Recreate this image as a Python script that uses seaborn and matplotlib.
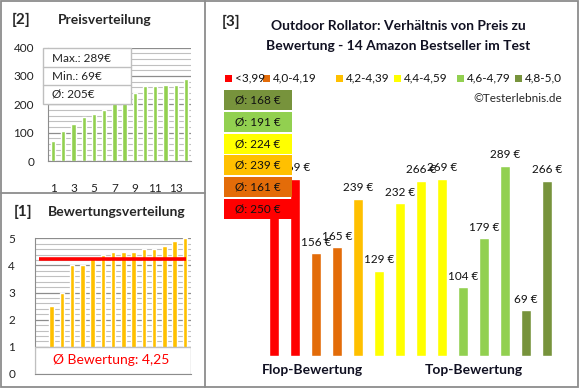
import matplotlib.pyplot as plt
import numpy as np
import pandas as pd
import seaborn as sns
from matplotlib.patches import Rectangle
from matplotlib.ticker import MultipleLocator

# products in test order (flop -> top rating)
ratings = [2.5, 3.0, 4.0, 4.0, 4.3, 4.4, 4.5, 4.5, 4.5, 4.6, 4.6, 4.7, 4.9, 5.0]
prices = [231, 269, 156, 165, 239, 129, 232, 266, 269, 104, 179, 289, 69, 266]

class_labels = ["<3,99", "4,0-4,19", "4,2-4,39", "4,4-4,59", "4,6-4,79", "4,8-5,0"]
class_bounds = [0, 4.0, 4.2, 4.4, 4.6, 4.8, 5.01]
class_colors = ["#FF0000", "#E36C09", "#FFC000", "#FFFF00", "#92D050", "#77933C"]

W, H = 580, 390
BORDER = "#8C8C8C"
GRID_MAJOR = "#8C8C8C"
GRID_MINOR = "#C0C0C0"

sns.set_style("white")
plt.rcParams["font.family"] = ["Lato", "DejaVu Sans"]

df = pd.DataFrame({"pos": range(len(prices)), "price": prices, "rating": ratings})
df["klasse"] = pd.cut(df["rating"], bins=class_bounds, right=False, labels=class_labels)
class_avg = df.groupby("klasse", observed=False)["price"].mean()


def round_half_up(v):
    return int(np.floor(v + 0.5))


fig = plt.figure(figsize=(W / 100, H / 100), dpi=100)


def px_axes(left, top, right, bottom):
    return fig.add_axes([left / W, 1 - bottom / H, (right - left) / W, (bottom - top) / H])


def style_grid(ax, major, minor):
    ax.yaxis.set_major_locator(MultipleLocator(major))
    ax.yaxis.set_minor_locator(MultipleLocator(minor))
    ax.grid(axis="y", which="major", color=GRID_MAJOR, lw=0.9)
    ax.grid(axis="y", which="minor", color=GRID_MINOR, lw=0.8)
    ax.set_axisbelow(True)
    ax.tick_params(length=0, labelsize=8.5, colors="#222222")
    ax.set_xlabel("")
    ax.set_ylabel("")
    for side in ["top", "right"]:
        ax.spines[side].set_visible(False)
    for side in ["left", "bottom"]:
        ax.spines[side].set_color(GRID_MAJOR)


# [2] price distribution
ax_p = px_axes(48, 47.5, 191, 161)
price_sorted = pd.DataFrame({"rank": range(len(prices)), "price": sorted(prices)})
sns.barplot(data=price_sorted, x="rank", y="price", color="#92D050", width=0.42,
            saturation=1, ax=ax_p)
ax_p.set_xlim(-0.5, 13.5)
ax_p.set_ylim(0, 400)
style_grid(ax_p, 100, 20)
ax_p.set_xticks(range(0, 14, 2))
ax_p.set_xticklabels([str(i + 1) for i in range(0, 14, 2)])
ax_p.tick_params(axis="x", pad=16)
ax_p.tick_params(axis="y", pad=10)

# [1] rating distribution
ax_r = px_axes(34.5, 238.3, 191, 374)
rating_sorted = pd.DataFrame({"rank": range(len(ratings)), "rating": sorted(ratings)})
sns.barplot(data=rating_sorted, x="rank", y="rating", color="#FFC000", width=0.45,
            saturation=1, ax=ax_r)
ax_r.set_xlim(-1.68, 13.6)
ax_r.set_ylim(0, 5)
style_grid(ax_r, 1, 0.2)
ax_r.set_xticks([])
ax_r.tick_params(axis="y", pad=14)
mean_rating = np.mean(ratings)
ax_r.hlines(mean_rating, -1.2, 13.1, color="#FF0000", lw=2.6, zorder=4)
ax_r.add_patch(Rectangle((0, 0), 1, 0.2, transform=ax_r.transAxes, facecolor="white",
                         edgecolor="#BFBFBF", lw=1, zorder=5))
ax_r.text(0.49, 0.1, f"Ø Bewertung: {mean_rating:.2f}".replace(".", ","),
          transform=ax_r.transAxes, ha="center", va="center", color="#FF0000",
          fontsize=10, zorder=6)

# [3] price vs rating
ax_m = px_axes(263.5, 158.6, 557.5, 355.7)
sns.barplot(data=df, x="pos", y="price", hue="klasse",
            palette=dict(zip(class_labels, class_colors)), legend=False,
            width=0.43, dodge=False, saturation=1, ax=ax_m)
ax_m.set_xlim(-0.5, 13.5)
ax_m.set_ylim(0, 300)
ax_m.axis("off")
for i, p in enumerate(prices):
    ax_m.annotate(f"{p} €", (i, p), xytext=(0, 4), textcoords="offset points",
                  ha="center", va="bottom", fontsize=8.5, color="#111111")

# overlay in pixel coordinates for frames, titles and boxes
ov = fig.add_axes([0, 0, 1, 1])
ov.set_xlim(0, W)
ov.set_ylim(H, 0)
ov.axis("off")
ov.set_zorder(10)
ov.patch.set_visible(False)

ov.add_patch(Rectangle((0.8, 0.8), 577, 386.5, fill=False, edgecolor=BORDER, lw=1.3))
ov.plot([205, 205], [0.8, 387.3], color=BORDER, lw=1.3)
ov.plot([0.8, 205], [193, 193], color=BORDER, lw=1.3)

ov.text(12, 20, "[2]", fontsize=11, fontweight="bold", va="center")
ov.text(58, 20, "Preisverteilung", fontsize=10, fontweight="bold", va="center")
ov.text(14, 212, "[1]", fontsize=11, fontweight="bold", va="center")
ov.text(48, 212, "Bewertungsverteilung", fontsize=10, fontweight="bold", va="center")
ov.text(222, 22, "[3]", fontsize=11, fontweight="bold", va="center")
ov.text(398, 26, "Outdoor Rollator: Verhältnis von Preis zu", fontsize=10,
        fontweight="bold", ha="center", va="center", color="#111122")
ov.text(398, 46, "Bewertung - 14 Amazon Bestseller im Test", fontsize=10,
        fontweight="bold", ha="center", va="center", color="#111122")
ov.text(562, 98, "©Testerlebnis.de", fontsize=8.5, ha="right", va="center")

# price info box
ov.add_patch(Rectangle((42.7, 48.3), 88, 55.7, facecolor="white", edgecolor="#BFBFBF", lw=1))
ov.plot([42.7, 130.7], [67.3, 67.3], color="#BFBFBF", lw=1)
ov.plot([42.7, 130.7], [85.3, 85.3], color="#BFBFBF", lw=1)
info = [f"Max.: {max(prices)}€", f"Min.: {min(prices)}€",
        f"Ø: {round_half_up(np.mean(prices))}€"]
for y, txt in zip([58, 76.5, 94.5], info):
    ov.text(52.5, y, txt, fontsize=8.5, va="center", color="#222222")

# legend
legend_x = [225, 263, 336, 394, 457, 515]
for x, lab, col in zip(legend_x, class_labels, class_colors):
    ov.add_patch(Rectangle((x, 74.5), 7, 7, facecolor=col, edgecolor="none"))
    ov.text(x + 9.5, 78, lab, fontsize=8.5, va="center", color="#111111")

# class average boxes (top: best class)
for i, (lab, col) in enumerate(zip(class_labels, class_colors)):
    top = 199 - i * 21.8
    ov.add_patch(Rectangle((224, top), 68, 20, facecolor=col, edgecolor="none"))
    ov.text(258, top + 10, f"Ø: {round_half_up(class_avg[lab])} €", fontsize=8.5,
            ha="center", va="center", color="#111111")

ov.text(312, 370, "Flop-Bewertung", fontsize=10, fontweight="bold", ha="center", va="center",
        color="#111122")
ov.text(474, 370, "Top-Bewertung", fontsize=10, fontweight="bold", ha="center", va="center",
        color="#111122")

fig.savefig("out.png", dpi=100)
